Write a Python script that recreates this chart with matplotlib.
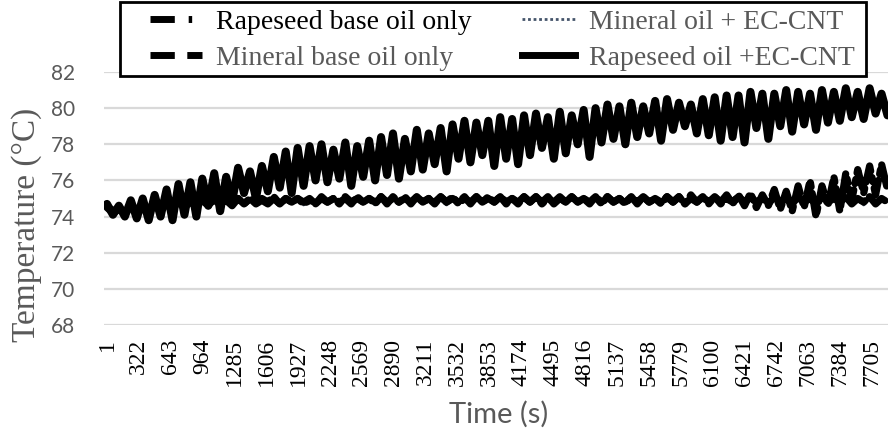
import numpy as np
import matplotlib.pyplot as plt
from matplotlib.lines import Line2D
from matplotlib.patches import Rectangle

# sample times (s): peaks at even positions, troughs at odd positions
time_s = np.arange(1, 7862, 60)

# Rapeseed oil + EC-CNT (solid, rising)
cnt_rape_hi = [74.7, 74.6, 74.9, 75.0, 75.2, 75.5, 75.8, 75.9,
               76.1, 76.4, 76.2, 76.7, 76.5, 76.8, 77.3, 77.6, 77.8,
               77.9, 78.0, 77.7, 78.1, 77.9, 78.2, 78.4, 78.6, 78.3,
               78.8, 78.6, 78.9, 79.1, 79.3, 79.2, 79.3, 79.5, 79.4,
               79.6, 79.7, 79.5, 79.8, 79.6, 79.9, 80.0, 80.2, 80.1,
               80.3, 80.1, 80.4, 80.5, 80.3, 80.2, 80.5, 80.6, 80.7,
               80.7, 80.9, 80.8, 80.8, 81.0, 80.9, 80.8, 81.0, 80.9,
               81.1, 80.9, 81.1, 80.8]
cnt_rape_lo = [74.1, 74.0, 73.9, 73.8, 74.0, 73.8, 74.1, 74.0,
               74.6, 74.3, 74.8, 75.3, 75.0, 75.4, 75.6, 75.3, 75.7,
               76.0, 75.9, 76.1, 75.7, 76.2, 76.0, 76.3, 76.1, 76.5,
               76.6, 76.9, 76.5, 77.2, 77.0, 77.4, 76.8, 77.2, 76.9,
               77.4, 77.8, 77.2, 77.5, 78.0, 77.3, 78.1, 78.3, 78.0,
               78.4, 78.6, 78.2, 78.8, 79.0, 78.6, 78.5, 78.2, 78.4,
               78.1, 78.9, 78.3, 79.0, 78.7, 79.1, 78.8, 79.2, 79.3,
               79.5, 79.4, 79.7, 79.6]

# Rapeseed base oil only (dash-dot, rises near the end)
rape_hi = [74.5, 74.4, 74.6, 74.6, 74.7, 74.7, 74.8, 74.8,
           74.9, 75.0, 74.9, 75.0, 75.0, 74.9, 75.0, 75.0, 75.0, 74.9,
           75.0, 75.0, 75.1, 75.0, 75.0, 75.1, 75.0, 75.1, 75.1, 75.0,
           75.1, 75.1, 75.0, 75.1, 75.1, 75.1, 75.0, 75.1, 75.1, 75.0,
           75.1, 75.1, 75.0, 75.1, 75.1, 75.0, 75.1, 75.1, 75.0, 75.1,
           75.1, 75.2, 75.1, 75.1, 75.2,
           75.2, 75.3, 75.2, 75.5, 75.4, 75.7, 76.0, 75.7, 76.2, 76.4,
           76.6, 76.8, 76.9]
rape_lo = [74.2, 74.2, 74.3, 74.4, 74.4, 74.5, 74.5, 74.6,
           74.6, 74.7, 74.6, 74.7, 74.7, 74.7, 74.7, 74.8, 74.7, 74.7,
           74.8, 74.7, 74.8, 74.8, 74.7, 74.8, 74.8, 74.7, 74.8, 74.8,
           74.8, 74.7, 74.8, 74.8, 74.8, 74.7, 74.8, 74.8, 74.7, 74.8,
           74.8, 74.8, 74.7, 74.8, 74.8, 74.7, 74.8, 74.8, 74.7, 74.8,
           74.7, 74.8, 74.7, 74.8, 74.7,
           74.6, 74.5, 74.6, 74.4, 74.3, 74.5, 74.0, 74.6, 74.3, 74.9,
           75.3, 75.2, 75.5]

# Mineral base oil only (dashed, flat)
mineral_hi = [74.6, 74.5, 74.6, 74.7, 74.7, 74.8, 74.8, 74.9,
              75.0, 74.9, 75.0, 75.0, 75.0, 75.0, 75.1, 75.0, 75.0, 75.0,
              75.1, 75.0, 75.0, 75.1, 75.0, 75.1, 75.1, 75.0, 75.1, 75.0,
              75.1, 75.0, 75.1, 75.1, 75.0, 75.1, 75.0, 75.1, 75.1, 75.1,
              75.0, 75.1, 75.0, 75.1, 75.1, 75.0, 75.1, 75.1, 75.0, 75.1,
              75.1, 75.0, 75.1, 75.1, 75.0, 75.1, 75.1, 75.0, 75.1, 75.0,
              75.1, 75.0, 75.1, 75.0, 75.1, 75.0, 75.1, 75.0]
mineral_lo = [74.3, 74.2, 74.3, 74.4, 74.5, 74.5, 74.6, 74.6,
              74.7, 74.7, 74.8, 74.7, 74.8, 74.8, 74.7, 74.8, 74.8, 74.7,
              74.8, 74.8, 74.7, 74.8, 74.8, 74.7, 74.8, 74.8, 74.8, 74.7,
              74.8, 74.8, 74.7, 74.8, 74.8, 74.8, 74.7, 74.8, 74.8, 74.7,
              74.8, 74.8, 74.8, 74.7, 74.8, 74.8, 74.7, 74.8, 74.8, 74.8,
              74.7, 74.8, 74.8, 74.7, 74.8, 74.8, 74.8, 74.7, 74.8, 74.7,
              74.8, 74.7, 74.8, 74.8, 74.7, 74.8, 74.7, 74.8]

# Mineral oil + EC-CNT (dotted, flat)
cnt_min_hi = [74.5, 74.5, 74.6, 74.6, 74.7, 74.7, 74.8, 74.8] + [74.9, 74.95, 74.9, 74.9, 74.95, 74.9] * 9 + [74.9, 74.9, 74.95, 74.9]
cnt_min_lo = [74.3, 74.3, 74.4, 74.4, 74.5, 74.5, 74.6, 74.6] + [74.7, 74.7, 74.65, 74.7, 74.7, 74.7] * 9 + [74.7, 74.65, 74.7, 74.7]

tick_vals = [1, 322, 643, 964, 1285, 1606, 1927, 2248, 2569, 2890, 3211,
             3532, 3853, 4174, 4495, 4816, 5137, 5458, 5779, 6100, 6421,
             6742, 7063, 7384, 7705]
y_ticks = [68, 70, 72, 74, 76, 78, 80, 82]


def zigzag(hi, lo):
    return np.column_stack([hi, lo]).ravel()


serif = 'Liberation Serif'
sans = 'Lato'
grey = '#595959'

fig = plt.figure(figsize=(8.88, 4.36), dpi=100)
ax = fig.add_axes([104 / 888, 1 - 325 / 436, 1 - 104 / 888, 253 / 436])

dashdot = (0, (3, 0.9, 0.6, 0.9))
dashed = (0, (3, 0.8))
dotted = (0, (1, 1))

ax.plot(time_s, zigzag(cnt_min_hi, cnt_min_lo), color='#44546A', lw=2.2, ls=dotted)
ax.plot(time_s, zigzag(mineral_hi, mineral_lo), color='black', lw=5.2, ls=dashed,
        dash_capstyle='round', dash_joinstyle='round')
ax.plot(time_s, zigzag(rape_hi, rape_lo), color='black', lw=5.2, ls=dashdot,
        dash_capstyle='round', dash_joinstyle='round')
ax.plot(time_s, zigzag(cnt_rape_hi, cnt_rape_lo), color='black', lw=5.8,
        solid_joinstyle='round', solid_capstyle='round')

ax.set_xlim(-29, 7866)
ax.set_ylim(68, 82)
ax.set_yticks(y_ticks)
ax.set_yticklabels([str(v) for v in y_ticks], fontfamily=sans, fontsize=15, color=grey)
ax.set_xticks(tick_vals)
ax.set_xticklabels([str(v) for v in tick_vals], rotation=90, fontfamily=serif,
                   fontsize=17, color='black', va='top', ha='center')
ax.tick_params(axis='both', length=0)
ax.tick_params(axis='y', pad=21)
ax.tick_params(axis='x', pad=10)
ax.grid(axis='y', color='#D9D9D9', lw=1.6)
ax.set_axisbelow(True)
for s in ax.spines.values():
    s.set_visible(False)

ax.set_ylabel('Temperature (°C)', fontfamily=serif, fontsize=24, color=grey)
ax.yaxis.set_label_coords(-0.079, 0.395)
ax.set_xlabel('Time (s)', fontfamily=sans, fontsize=21, color=grey)
ax.xaxis.set_label_coords(0.503, -0.30)

# legend box
fig.patches.append(Rectangle((120 / 888, 1 - 76 / 436), 746 / 888, 74 / 436,
                             transform=fig.transFigure, facecolor='white',
                             edgecolor='black', lw=2, zorder=4))

handles = [
    Line2D([], [], color='black', lw=5, ls=(0, (3.5, 2, 0.5, 2))),
    Line2D([], [], color='black', lw=5, ls=(0, (3.5, 1.8))),
    Line2D([], [], color='#44546A', lw=2, ls=(0, (1, 1))),
    Line2D([], [], color='black', lw=5),
]
labels = ['Rapeseed base oil only', 'Mineral base oil only',
          'Mineral oil + EC-CNT', 'Rapeseed oil +EC-CNT']
leg = fig.legend(handles, labels, ncol=2, loc='upper left',
                 bbox_to_anchor=(144 / 888, 1 - 4 / 436, (860 - 144) / 888, 0),
                 mode='expand', prop={'family': serif, 'size': 20},
                 handlelength=1.9, handletextpad=0.5, labelspacing=0.38,
                 borderpad=0.2, borderaxespad=0, frameon=False)
leg.set_zorder(5)
for i, t in enumerate(leg.get_texts()):
    t.set_color('black' if i == 0 else grey)

fig.savefig('out.png', dpi=100)
